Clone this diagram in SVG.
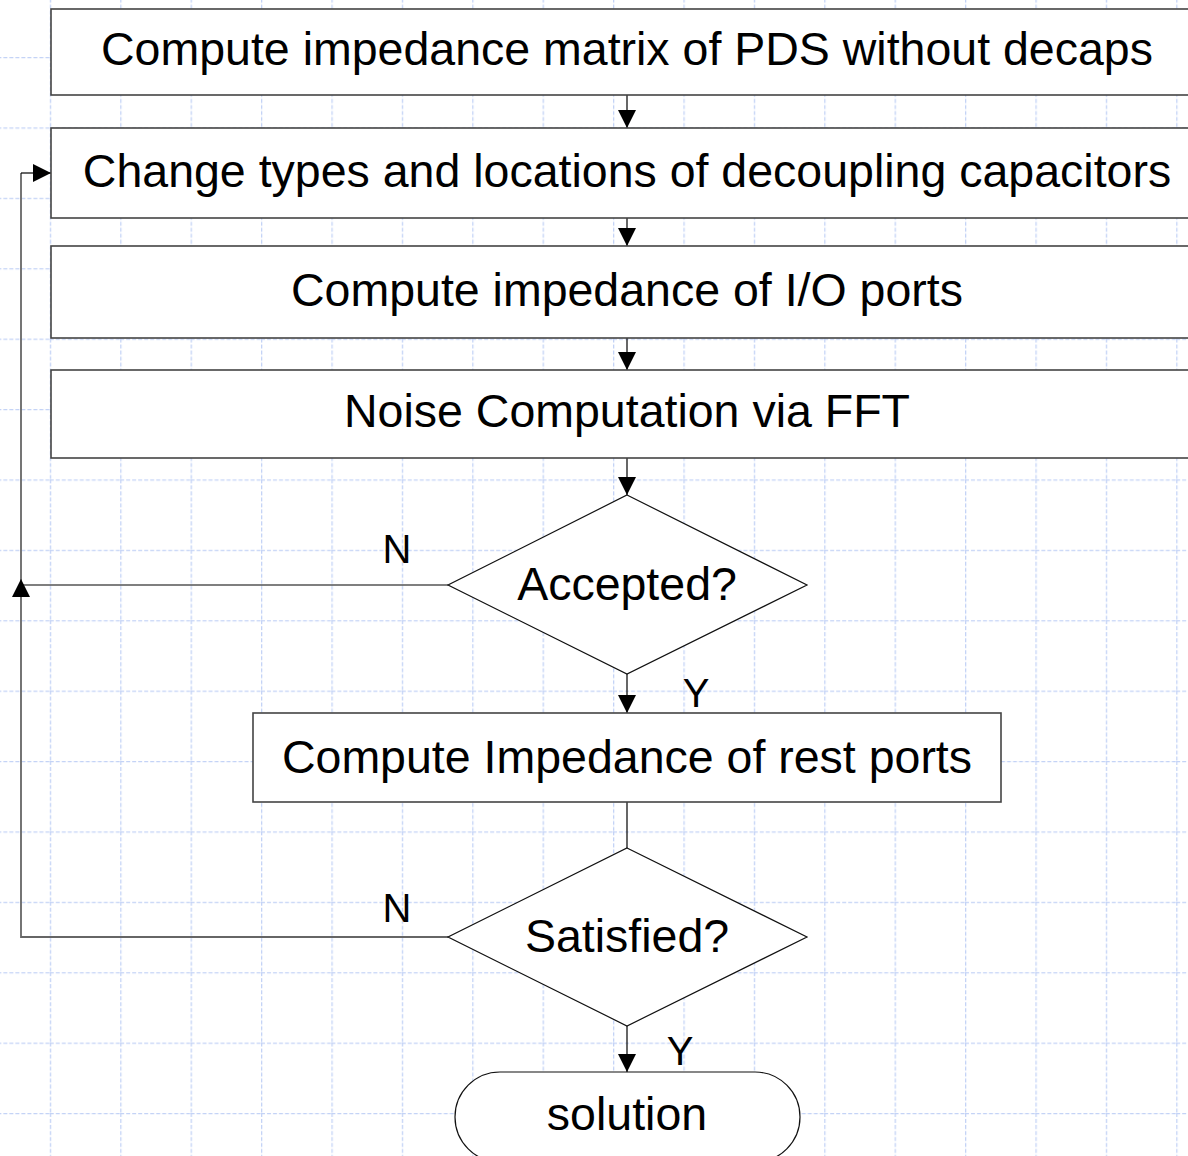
<svg xmlns="http://www.w3.org/2000/svg" width="1188" height="1156" viewBox="0 0 1188 1156">
  <defs>
    <marker id="arr" viewBox="0 0 10 10" refX="10" refY="5" markerWidth="18" markerHeight="18" markerUnits="userSpaceOnUse" orient="auto">
      <path d="M0,0 L10,5 L0,10 Z" fill="#000"/>
    </marker>
    <pattern id="grid" x="49.8" y="57" width="70.4" height="70.4" patternUnits="userSpaceOnUse">
      <path d="M0,0.5 H70.4 M0.5,0 V70.4" fill="none" stroke="#c4d3f6" stroke-width="1.6" stroke-dasharray="4 2"/>
    </pattern>
  </defs>
  <style>
    .box { fill: #fff; stroke: #444; stroke-width: 1.6; }
    .shape { fill: #fff; stroke: #111; stroke-width: 1.2; }
    .t { font-family: "Liberation Sans", Arial, sans-serif; font-size: 46.5px; fill: #000; text-anchor: middle; }
    .lbl { font-family: "Liberation Sans", Arial, sans-serif; font-size: 40px; fill: #000; text-anchor: middle; }
    .c { fill: none; stroke: #000; stroke-width: 1.2; }
    .cg { fill: none; stroke: #666; stroke-width: 1.8; }
  </style>

  <!-- background grid -->
  <rect x="0" y="0" width="1188" height="1156" fill="#fff"/>
  <rect x="0" y="0" width="1188" height="1156" fill="url(#grid)"/>

  <!-- connectors -->
  <g id="connectors">
    <path class="c" d="M627,95 V128" marker-end="url(#arr)"/>
    <path class="c" d="M627,218 V246" marker-end="url(#arr)"/>
    <path class="c" d="M627,338 V370" marker-end="url(#arr)"/>
    <path class="c" d="M627,458 V495" marker-end="url(#arr)"/>
    <path class="c" d="M627,674 V713" marker-end="url(#arr)"/>
    <path class="c" d="M627,802 V848"/>
    <path class="c" d="M627,1026 V1072" marker-end="url(#arr)"/>
    <!-- Accepted? = N : back to the capacitor change step -->
    <path class="c" d="M448,585 H21"/>
    <path class="cg" d="M21,585 V173"/>
    <path class="c" d="M21,173 H51" marker-end="url(#arr)"/>
    <!-- Satisfied? = N : joins the loop-back line -->
    <path class="cg" d="M448,937 H21 V579" marker-end="url(#arr)"/>
  </g>

  <g id="n1">
    <rect class="box" x="51" y="9" width="1160" height="86"/>
    <text class="t" x="627" y="65">Compute impedance matrix of PDS without decaps</text>
  </g>
  <g id="n2">
    <rect class="box" x="51" y="128" width="1160" height="90"/>
    <text class="t" x="627" y="187">Change types and locations of decoupling capacitors</text>
  </g>
  <g id="n3">
    <rect class="box" x="51" y="246" width="1160" height="92"/>
    <text class="t" x="627" y="306">Compute impedance of I/O ports</text>
  </g>
  <g id="n4">
    <rect class="box" x="51" y="370" width="1160" height="88"/>
    <text class="t" x="627" y="427">Noise Computation via FFT</text>
  </g>
  <g id="n5">
    <polygon class="shape" points="627,495 807,585 627,674 448,585"/>
    <text class="t" x="627" y="600">Accepted?</text>
  </g>
  <g id="n6">
    <rect class="box" x="253" y="713" width="748" height="89"/>
    <text class="t" x="627" y="773">Compute Impedance of rest ports</text>
  </g>
  <g id="n7">
    <polygon class="shape" points="627,848 807,937 627,1026 448,937"/>
    <text class="t" x="627" y="952">Satisfied?</text>
  </g>
  <g id="n8">
    <rect class="shape" x="455" y="1072" width="345" height="90" rx="45" ry="45"/>
    <text class="t" x="627" y="1130">solution</text>
  </g>

  <!-- branch labels -->
  <g id="labels">
    <text class="lbl" x="397" y="563">N</text>
    <text class="lbl" x="696" y="707">Y</text>
    <text class="lbl" x="397" y="922">N</text>
    <text class="lbl" x="680" y="1065">Y</text>
  </g>
</svg>
